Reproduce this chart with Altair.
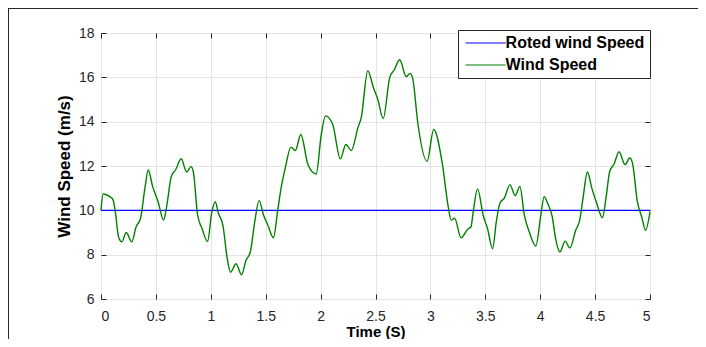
import altair as alt
import pandas as pd

# ---- data ----
time = [0.00, 0.02, 0.08, 0.11, 0.13, 0.16, 0.19, 0.23, 0.28, 0.32, 0.36, 0.40, 0.43, 0.47,
        0.52, 0.57, 0.60, 0.64, 0.68, 0.73, 0.78, 0.82, 0.84, 0.88, 0.92, 0.97, 1.01, 1.04,
        1.07, 1.11, 1.15, 1.18, 1.23, 1.28, 1.32, 1.36, 1.40, 1.44, 1.48, 1.52, 1.57, 1.61,
        1.64, 1.68, 1.73, 1.77, 1.82, 1.885, 1.96, 2.006, 2.045, 2.11, 2.18, 2.23, 2.28, 2.34,
        2.37, 2.43, 2.48, 2.52, 2.57, 2.63, 2.67, 2.72, 2.78, 2.815, 2.84, 2.885, 2.97, 3.03,
        3.11, 3.16, 3.19, 3.22, 3.28, 3.34, 3.37, 3.39, 3.43, 3.48, 3.52, 3.567, 3.60, 3.633,
        3.673, 3.724, 3.773, 3.815, 3.855, 3.90, 3.96, 4.006, 4.036, 4.067, 4.11, 4.14, 4.18,
        4.227, 4.27, 4.324, 4.36, 4.39, 4.43, 4.47, 4.51, 4.567, 4.603, 4.633, 4.673, 4.718,
        4.773, 4.815, 4.84, 4.885, 4.924, 4.96, 5.00]
wind = [10.0, 10.74, 10.62, 10.47, 9.94, 8.8, 8.58, 9.0, 8.58, 9.26, 9.64, 11.0, 11.82, 11.08,
        10.39, 9.56, 10.24, 11.53, 11.83, 12.33, 11.73, 11.97, 11.76, 9.79, 9.18, 8.6, 9.94, 10.39,
        9.86, 9.33, 7.82, 7.21, 7.59, 7.09, 7.74, 8.12, 9.48, 10.44, 9.79, 9.33, 8.76, 10.02,
        11.0, 11.95, 12.85, 12.7, 13.42, 12.06, 11.64, 13.42, 14.26, 13.88, 12.32, 12.97, 12.7, 13.73,
        14.18, 16.3, 15.55, 15.02, 14.14, 16.0, 16.33, 16.79, 16.03, 16.18, 15.92, 13.95, 12.21, 13.65,
        12.06, 10.24, 9.56, 9.64, 8.76, 9.15, 9.26, 9.94, 10.97, 9.79, 9.18, 8.27, 9.48, 10.32,
        10.55, 11.15, 10.67, 11.08, 9.79, 9.03, 8.39, 9.79, 10.62, 10.32, 9.71, 8.73, 8.12,
        8.61, 8.3, 9.11, 9.56, 10.55, 11.73, 11.0, 10.39, 9.67, 10.7, 11.76, 12.09, 12.64,
        12.06, 12.36, 12.14, 10.39, 9.71, 9.1, 9.94]
rated_time = [0, 5]
rated_value = [10, 10]
series_names = ["Roted wind Speed", "Wind Speed"]
series_colors = ["#0000ff", "#008000"]
x_ticks = [0, 0.5, 1, 1.5, 2, 2.5, 3, 3.5, 4, 4.5, 5]
y_ticks = [6, 8, 10, 12, 14, 16, 18]

df_w = pd.DataFrame({"t": time, "v": wind, "s": series_names[1]})
df_r = pd.DataFrame({"t": rated_time, "v": rated_value, "s": series_names[0]})

FONT = "Liberation Sans"
DARK = "#262626"

xs = alt.Scale(domain=[0, 5], nice=False, zero=False)
ys = alt.Scale(domain=[6, 18], nice=False, zero=False)

legend = alt.Legend(
    title=None, orient="none", legendX=357, legendY=-3,
    symbolType="M-4,0H4", symbolSize=101, symbolStrokeWidth=1.2,
    symbolOffset=14.6, labelOffset=12,
    labelFont=FONT, labelFontSize=16, labelFontWeight="bold", labelColor="black",
    strokeColor=DARK, fillColor="white", padding=5, rowPadding=6,
)
color = alt.Color("s:N", scale=alt.Scale(domain=series_names, range=series_colors), legend=legend)

x_bottom = alt.Axis(orient="bottom", values=x_ticks, format="~g", title="Time (S)",
                    offset=-5, tickSize=5, domain=False, grid=True, labelPadding=10,
                    titleFontSize=15, titleBaseline="alphabetic", titleY=42)
y_left = alt.Axis(orient="left", values=y_ticks, format="~g", title="Wind Speed (m/s)",
                  offset=-5, tickSize=5, domain=False, grid=True, labelPadding=7,
                  titlePadding=5, titleFontSize=17)
x_top = alt.Axis(orient="top", values=x_ticks, labels=False, title=None,
                 offset=-5, tickSize=5, domain=False, grid=False)
y_right = alt.Axis(orient="right", values=y_ticks, labels=False, title=None,
                   offset=-5, tickSize=5, domain=False, grid=False)

rated = alt.Chart(df_r).mark_line(strokeWidth=1.2).encode(
    x=alt.X("t:Q", scale=xs, axis=x_bottom),
    y=alt.Y("v:Q", scale=ys, axis=y_left),
    color=color,
)
windline = alt.Chart(df_w).mark_line(strokeWidth=1.4, interpolate="monotone").encode(
    x=alt.X("t:Q", scale=xs, axis=x_top),
    y=alt.Y("v:Q", scale=ys, axis=y_right),
    color=color,
)

frame_df = pd.DataFrame({"a": [0]})
left_border = alt.Chart(frame_df).mark_rule(color=DARK, strokeWidth=1).encode(
    x=alt.value(-92.5), y=alt.value(-25), y2=alt.value(320))
top_border = alt.Chart(frame_df).mark_rule(color=DARK, strokeWidth=1).encode(
    x=alt.value(-93), x2=alt.value(610), y=alt.value(-24.5))

chart = alt.layer(rated, windline, left_border, top_border).resolve_axis(
    x="independent", y="independent"
).properties(
    width=549, height=266,
    autosize=alt.AutoSizeParams(type="none"),
    padding={"left": 93, "top": 25, "right": 48, "bottom": 40},
).configure(
    font=FONT,
).configure_view(
    stroke=DARK, strokeWidth=1,
).configure_axis(
    labelFont=FONT, labelFontSize=14, labelColor=DARK,
    titleFont=FONT, titleFontWeight="bold", titleColor="black",
    tickColor=DARK, tickWidth=1, gridColor="#e4e4e4", gridWidth=1,
)

chart.save("out.html", embed_options={"renderer": "svg", "actions": False})
